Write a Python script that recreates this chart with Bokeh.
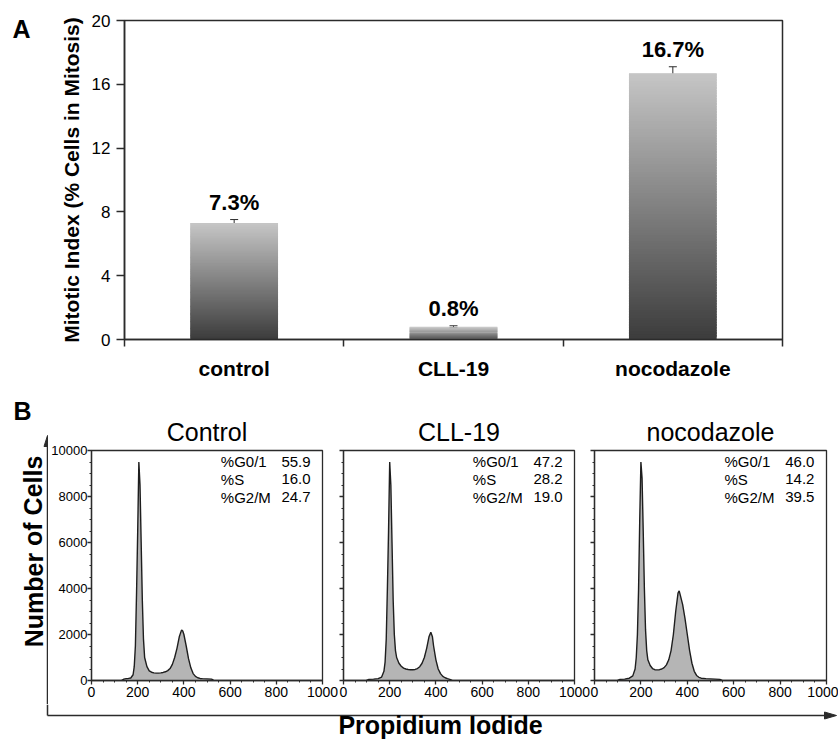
from bokeh.plotting import figure
from bokeh.layouts import column, row
from bokeh.models import (ColumnDataSource, Range1d, FixedTicker, Whisker, TeeHead, LabelSet,
                          CustomJSTickFormatter)
from bokeh.embed import file_html
from bokeh.resources import INLINE
from bokeh.core.properties import value

FONT = "Liberation Sans"
DARK = "#2b2b2b"

# ---------------- Panel A data ----------------
categories = ["control", "CLL-19", "nocodazole"]
mitotic_index = [7.3, 0.8, 16.7]
mitotic_err = [0.22, 0.06, 0.4]
bar_labels = ["7.3%", "0.8%", "16.7%"]
a_yticks = [0, 4, 8, 12, 16, 20]

# ---------------- Panel B data ----------------
panel_titles = ["Control", "CLL-19", "nocodazole"]
stat_names = ["%G0/1", "%S", "%G2/M"]
g01 = [55.9, 47.2, 46.0]
s_phase = [16.0, 28.2, 14.2]
g2m = [24.7, 19.0, 39.5]
b_xticks = [0, 200, 400, 600, 800, 1000]
b_yticks = [0, 2000, 4000, 6000, 8000, 10000]

ctrl_pi = [130, 140, 150, 160, 170, 180, 185, 190, 195, 200, 205, 210, 215, 220, 225, 230, 240, 250,
           260, 270, 280, 290, 300, 310, 320, 330, 340, 350, 360, 370, 380, 390, 395, 400, 410, 420,
           430, 440, 450, 460, 470, 480, 500, 520, 530]
ctrl_n = [0, 60, 80, 90, 110, 250, 600, 1500, 3800, 6500, 9500, 8500, 6000, 3500, 1800, 1000, 600, 420,
          360, 330, 320, 320, 330, 350, 380, 430, 520, 700, 1000, 1400, 1900, 2200, 2150, 2000, 1500, 950,
          550, 300, 180, 120, 90, 80, 70, 60, 0]

cll_pi = [100, 110, 130, 150, 165, 175, 180, 185, 190, 195, 200, 205, 210, 215, 220, 225, 230, 240,
          250, 260, 270, 280, 290, 300, 310, 320, 330, 340, 350, 360, 370, 378, 385, 390, 400, 410,
          420, 430, 440, 450, 460, 470]
cll_n = [0, 50, 60, 80, 150, 400, 800, 1800, 4000, 6500, 9500, 8500, 6000, 3500, 2000, 1300, 1000, 750,
         620, 540, 500, 480, 470, 470, 480, 520, 600, 750, 1000, 1400, 1900, 2100, 1900, 1500, 900, 500,
         300, 180, 120, 80, 50, 0]

noco_pi = [100, 110, 130, 150, 165, 175, 180, 185, 190, 195, 200, 205, 210, 215, 220, 225, 230, 240,
           250, 260, 270, 280, 290, 300, 310, 320, 330, 340, 350, 360, 365, 370, 380, 390, 400, 410,
           420, 430, 440, 450, 460, 480, 500, 520, 540, 550]
noco_n = [0, 50, 60, 100, 200, 500, 1000, 2000, 4000, 7000, 9500, 8800, 6500, 4000, 2200, 1300, 900, 650,
          520, 470, 460, 470, 500, 560, 680, 900, 1300, 2000, 3000, 3800, 3900, 3700, 3300, 2700, 2000, 1300,
          750, 400, 220, 140, 100, 80, 70, 60, 50, 0]

hist_x = [ctrl_pi, cll_pi, noco_pi]
hist_y = [ctrl_n, cll_n, noco_n]

TOTAL_W = 838


def strip(w, h, y_top):
    """Decoration-only figure; its y data equals page pixel rows (top-down)."""
    s = figure(width=w, height=h, x_range=Range1d(0, w), y_range=Range1d(y_top + h, y_top),
               x_axis_location=None, y_axis_location=None, toolbar_location=None,
               output_backend="svg", min_border=0, min_border_left=0, min_border_right=0,
               min_border_top=0, min_border_bottom=0)
    s.outline_line_color = None
    s.xgrid.visible = False
    s.ygrid.visible = False
    return s


# ======================= Panel A =======================
A_H = 385
A_TOP, A_BOT = 20, 46          # borders of panel A figure
stripA = strip(45, A_H, 0)
stripA.text(x=[12], y=[28], text=["A"], text_font=value(FONT), text_font_size="25px",
            text_font_style="bold", text_baseline="middle", text_align="left", text_color="black")

pA = figure(width=TOTAL_W - 45, height=A_H, x_range=Range1d(0, 3), y_range=Range1d(0, 20),
            toolbar_location=None, output_backend="svg",
            min_border_left=79, min_border_right=TOTAL_W - 45 - 79 - 658,
            min_border_top=A_TOP, min_border_bottom=A_BOT)
pA.xgrid.visible = False
pA.ygrid.visible = False
pA.outline_line_color = DARK
pA.outline_line_width = 1.5

# gradient bars built from thin overlapping slices
N = 100
top_rgb = (198, 198, 198)
bot_rgb = (60, 60, 60)
L, R, B, T, C = [], [], [], [], []
for i, v in enumerate(mitotic_index):
    xc = i + 0.5
    for k in range(N):
        t = (k + 0.5) / N
        rgb = tuple(int(round(bot_rgb[j] + (top_rgb[j] - bot_rgb[j]) * t)) for j in range(3))
        L.append(xc - 0.2)
        R.append(xc + 0.2)
        B.append(v * k / N)
        T.append(min(v, v * (k + 1.8) / N))
        C.append("#%02x%02x%02x" % rgb)
pA.quad(left=L, right=R, bottom=B, top=T, fill_color=C, line_color=None)

src = ColumnDataSource(dict(
    x=[i + 0.5 for i in range(len(categories))],
    upper=[v + e for v, e in zip(mitotic_index, mitotic_err)],
    lower=[v - e for v, e in zip(mitotic_index, mitotic_err)],
    label=bar_labels,
))
pA.add_layout(Whisker(source=src, base="x", upper="upper", lower="lower", line_color=DARK, line_width=1,
                      upper_head=TeeHead(size=8, line_color=DARK, line_width=1),
                      lower_head=TeeHead(size=8, line_color=DARK, line_width=1)))
pA.add_layout(LabelSet(source=src, x="x", y="upper", text="label", y_offset=10,
                       text_align="center", text_baseline="alphabetic",
                       text_font=value(FONT), text_font_size="22px", text_font_style="bold",
                       text_color="black"))

pA.yaxis.ticker = FixedTicker(ticks=a_yticks, minor_ticks=[])
pA.yaxis.major_tick_out = 8
pA.yaxis.major_tick_in = 0
pA.yaxis.minor_tick_out = 0
pA.yaxis.minor_tick_in = 0
pA.yaxis.major_label_standoff = 6
pA.yaxis.major_label_text_font = FONT
pA.yaxis.major_label_text_font_size = "17px"
pA.yaxis.major_label_text_color = "black"
pA.yaxis.axis_label = "Mitotic Index (% Cells in Mitosis)"
pA.yaxis.axis_label_text_font = FONT
pA.yaxis.axis_label_text_font_size = "21px"
pA.yaxis.axis_label_text_font_style = "bold"
pA.yaxis.axis_label_text_color = "black"
pA.yaxis.axis_label_standoff = 6

pA.xaxis.ticker = FixedTicker(ticks=[i + 0.5 for i in range(len(categories))],
                              minor_ticks=list(range(len(categories) + 1)))
pA.xaxis.major_label_overrides = {i + 0.5: c for i, c in enumerate(categories)}
pA.xaxis.major_tick_out = 0
pA.xaxis.major_tick_in = 0
pA.xaxis.minor_tick_out = 7
pA.xaxis.minor_tick_in = 0
pA.xaxis.major_label_standoff = 10
pA.xaxis.major_label_text_font = FONT
pA.xaxis.major_label_text_font_size = "21px"
pA.xaxis.major_label_text_font_style = "bold"
pA.xaxis.major_label_text_color = "black"
for ax in (pA.xaxis[0], pA.yaxis[0]):
    ax.axis_line_color = DARK
    ax.axis_line_width = 1.5
    ax.major_tick_line_color = DARK
    ax.minor_tick_line_color = DARK
    ax.major_tick_line_width = 1.5
    ax.minor_tick_line_width = 1.5

rowA = row(column(stripA), pA)

# ======================= Panel B =======================
B_Y0 = A_H                    # page row where panel B figures start
B_FT, B_FB = 450, 680         # frame top / bottom (page rows)
B_H = 319
LEFT_W = 48

stripB = strip(LEFT_W, B_H, B_Y0)
stripB.text(x=[13], y=[410], text=["B"], text_font=value(FONT), text_font_size="25px",
            text_font_style="bold", text_baseline="middle", text_align="left", text_color="black")
stripB.text(x=[33], y=[551], text=["Number of Cells"], angle=1.5708, text_font=value(FONT),
            text_font_size="25px", text_font_style="bold", text_baseline="middle",
            text_align="center", text_color="black")
stripB.segment(x0=[47], y0=[444], x1=[47], y1=[B_Y0 + B_H], line_color=DARK, line_width=1.5)
stripB.patch(x=[43.5, 47, 50.5], y=[446, 435, 446], fill_color=DARK, line_color=DARK)

geo = [  # (width, border_left, border_right)
    (338 - LEFT_W, 90 - LEFT_W, 16),
    (252, 5, 16),
    (248, 4, 12),
]
hist_figs = []
for i in range(3):
    w, bl, br = geo[i]
    p = figure(width=w, height=B_H, x_range=Range1d(0, 1000), y_range=Range1d(0, 10000),
               toolbar_location=None, output_backend="svg",
               min_border_left=bl, min_border_right=br, min_border_top=B_FT - B_Y0,
               min_border_bottom=B_Y0 + B_H - B_FB, title=panel_titles[i])
    p.title.align = "center"
    p.title.text_font = FONT
    p.title.text_font_size = "25px"
    p.title.text_font_style = "normal"
    p.title.text_color = "black"
    p.title.standoff = 10
    p.xgrid.visible = False
    p.ygrid.visible = False
    p.outline_line_color = DARK
    p.outline_line_width = 1.3

    p.varea(x=hist_x[i], y1=[0] * len(hist_x[i]), y2=hist_y[i], fill_color="#b5b5b5")
    p.line(x=hist_x[i], y=hist_y[i], line_color="#1e1e1e", line_width=1.4)

    vals = ["%.1f" % g01[i], "%.1f" % s_phase[i], "%.1f" % g2m[i]]
    ys = [9520, 8740, 7960]
    p.text(x=[560] * 3, y=ys, text=stat_names, text_font=value(FONT), text_font_size="15px",
           text_baseline="middle", text_align="left", text_color="black")
    p.text(x=[822] * 3, y=ys, text=vals, text_font=value(FONT), text_font_size="15px",
           text_baseline="middle", text_align="left", text_color="black")

    p.xaxis.ticker = FixedTicker(ticks=b_xticks, minor_ticks=list(range(0, 1001, 50)))
    p.yaxis.ticker = FixedTicker(ticks=b_yticks, minor_ticks=list(range(0, 10001, 500)))
    for ax in (p.xaxis[0], p.yaxis[0]):
        ax.axis_line_color = DARK
        ax.axis_line_width = 1.3
        ax.major_tick_out = 4
        ax.major_tick_in = 0
        ax.minor_tick_out = 2
        ax.minor_tick_in = 0
        ax.major_tick_line_color = DARK
        ax.minor_tick_line_color = DARK
        ax.major_tick_line_width = 1.3
        ax.minor_tick_line_width = 1
        ax.major_label_text_font = FONT
        ax.major_label_text_font_size = "14px"
        ax.major_label_text_color = "black"
    p.xaxis.major_label_standoff = 2
    p.yaxis.major_label_standoff = 0
    if i == 0:
        p.yaxis.major_label_text_font_size = "13px"
    else:
        p.yaxis.formatter = CustomJSTickFormatter(code="return ''")
    hist_figs.append(p)

rowB = row(column(stripB), *hist_figs)

# bottom strip: horizontal arrow axis and its title
BOT_TOP = B_Y0 + B_H
BOT_H = 739 - BOT_TOP
bot = strip(TOTAL_W, BOT_H, BOT_TOP)
bot.segment(x0=[47], y0=[BOT_TOP], x1=[47], y1=[715], line_color=DARK, line_width=1.5)
bot.segment(x0=[47], y0=[715], x1=[826], y1=[715], line_color=DARK, line_width=1.5)
bot.patch(x=[824, 836, 824], y=[711.5, 715, 718.5], fill_color=DARK, line_color=DARK)
bot.text(x=[440], y=[724], text=["Propidium Iodide"], text_font=value(FONT), text_font_size="25px",
         text_font_style="bold", text_baseline="middle", text_align="center", text_color="black")

layout = column(rowA, rowB, bot)
open("out.html", "w").write(file_html(layout, INLINE))
